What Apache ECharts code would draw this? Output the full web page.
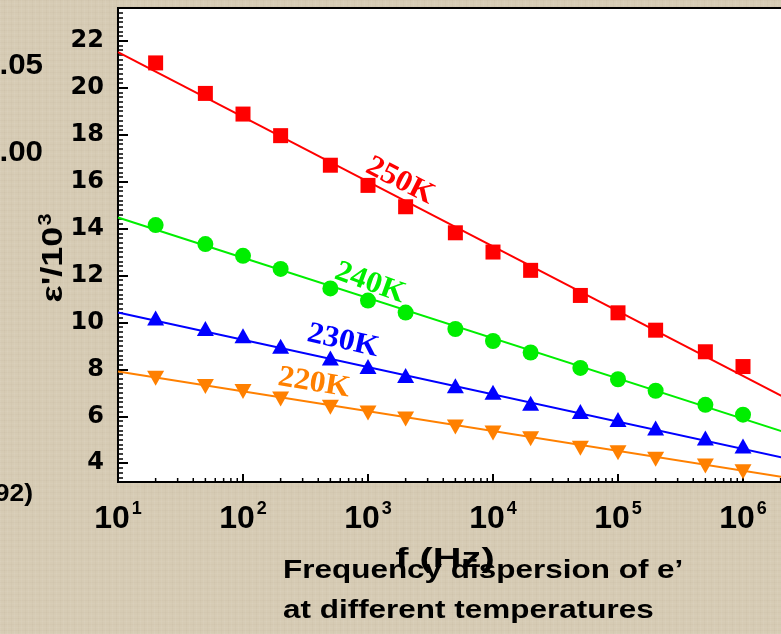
<!DOCTYPE html>
<html><head><meta charset="utf-8">
<script src="https://cdn.jsdelivr.net/npm/echarts@6/dist/echarts.min.js"></script>
<style>
html,body{margin:0;padding:0}
body{background-color:#d6cbb4;
 background-image:
  repeating-linear-gradient(90deg, rgba(255,255,255,0.05) 0px, rgba(255,255,255,0.05) 1px, rgba(0,0,0,0) 1px, rgba(0,0,0,0) 4px, rgba(120,100,70,0.035) 4px, rgba(120,100,70,0.035) 5px, rgba(0,0,0,0) 5px, rgba(0,0,0,0) 7px),
  repeating-linear-gradient(0deg, rgba(255,255,255,0.04) 0px, rgba(255,255,255,0.04) 1px, rgba(0,0,0,0) 1px, rgba(0,0,0,0) 3px, rgba(120,100,70,0.03) 3px, rgba(120,100,70,0.03) 4px, rgba(0,0,0,0) 4px, rgba(0,0,0,0) 6px);}
#c{width:781px;height:634px}
</style>
</head><body><div id="c"></div>
<script>
// ---- data ----
const freqs = [20, 50, 100, 200, 500, 1000, 2000, 5000, 10000, 20000, 50000, 100000, 200000, 500000, 1000000];
const eps250 = [21.06, 19.76, 18.88, 17.96, 16.70, 15.84, 14.93, 13.82, 13.00, 12.22, 11.15, 10.41, 9.67, 8.75, 8.12];
const eps240 = [14.15, 13.34, 12.84, 12.28, 11.45, 10.93, 10.42, 9.72, 9.21, 8.72, 8.06, 7.58, 7.09, 6.49, 6.07];
const eps230 = [10.19, 9.74, 9.43, 8.98, 8.48, 8.12, 7.74, 7.30, 7.02, 6.56, 6.20, 5.86, 5.50, 5.08, 4.73];
const eps220 = [7.62, 7.27, 7.06, 6.74, 6.39, 6.14, 5.88, 5.54, 5.29, 5.04, 4.64, 4.45, 4.17, 3.88, 3.64];
// linear fits (end points)
const fitFreqs = [10, 10000000];
const fit250 = [21.52, 4.96];
const fit240 = [14.47, 4.18];
const fit230 = [10.42, 3.45];
const fit220 = [7.91, 2.83];
const tempLabels = ['250K', '240K', '230K', '220K'];
// log-axis minor tick positions
const minorMultipliers = [2, 3, 4, 5, 6, 7, 8, 9];
const minorDecades = [10, 100, 1000, 10000, 100000, 1000000];

const colors = ['#ff0000', '#00ee00', '#0000ff', '#ff8000'];
const SANS = '"Liberation Sans", Arial, sans-serif';
const WIDE = '"DejaVu Sans", sans-serif';
const SERIF = '"Liberation Serif", "Times New Roman", serif';

const minorTicks = [];
minorDecades.forEach(d => minorMultipliers.forEach(m => minorTicks.push([d * m, 10])));

const pts = arr => freqs.map((f, i) => [f, arr[i]]);
const fitPts = arr => fitFreqs.map((f, i) => [f, arr[i]]);

const sets = [
  {vals: eps250, fit: fit250, symbol: 'rect', size: 15, rot: 0},
  {vals: eps240, fit: fit240, symbol: 'circle', size: 16, rot: 0},
  {vals: eps230, fit: fit230, symbol: 'triangle', size: [17, 15], rot: 0},
  {vals: eps220, fit: fit220, symbol: 'triangle', size: [17, 15], rot: 180}
];

const series = [];
sets.forEach((s, k) => {
  series.push({
    type: 'line', data: fitPts(s.fit), symbol: 'none', silent: true,
    lineStyle: {color: colors[k], width: 2}, z: 2, xAxisIndex: 0, yAxisIndex: 0
  });
});
sets.forEach((s, k) => {
  series.push({
    type: 'scatter', data: pts(s.vals), symbol: s.symbol, symbolSize: s.size,
    symbolRotate: s.rot, itemStyle: {color: colors[k], opacity: 1}, z: 3,
    xAxisIndex: 0, yAxisIndex: 0
  });
});
series.push({
  type: 'custom', data: minorTicks, silent: true, z: 4, clip: false,
  xAxisIndex: 0, yAxisIndex: 0, encode: {x: 0, y: 1},
  renderItem: (params, api) => {
    const cs = params.coordSys;
    const x = api.coord([api.value(0), 10])[0];
    const yb = cs.y + cs.height;
    return {type: 'line', shape: {x1: x, y1: yb, x2: x, y2: yb - 4},
            style: {stroke: '#000', lineWidth: 1.5}};
  }
});

const labelPos = [
  {x: 400, y: 181, r: -27},
  {x: 370, y: 283, r: -20},
  {x: 343, y: 341, r: -12.5},
  {x: 314, y: 383, r: -9.5}
];

const graphic = [];
tempLabels.forEach((t, k) => {
  graphic.push({type: 'text', x: labelPos[k].x, y: labelPos[k].y,
    rotation: labelPos[k].r * Math.PI / 180, scaleX: 1.06, z: 100,
    style: {text: t, fill: colors[k], font: 'bold 30px ' + SERIF,
            textAlign: 'center', textVerticalAlign: 'middle'}});
});
graphic.push(
  {type: 'text', x: 54, y: 258, rotation: Math.PI / 2, scaleX: 1.2, z: 100,
   style: {text: '{a|ε\'/10}{s|3}', textAlign: 'center', textVerticalAlign: 'middle',
     rich: {a: {font: 'bold 30px ' + SANS, fill: '#000'},
            s: {font: 'bold 18px ' + SANS, fill: '#000', padding: [0, 0, 16, 1]}}}},
  {type: 'text', x: 43, y: 66, z: 100, scaleX: 1.08, style: {text: '.05', font: 'bold 29px ' + SANS, fill: '#000', textAlign: 'right', textVerticalAlign: 'middle'}},
  {type: 'text', x: 43, y: 153, z: 100, scaleX: 1.08, style: {text: '.00', font: 'bold 29px ' + SANS, fill: '#000', textAlign: 'right', textVerticalAlign: 'middle'}},
  {type: 'text', x: 33, y: 495, z: 100, scaleX: 1.15, style: {text: '92)', font: 'bold 23px ' + SANS, fill: '#000', textAlign: 'right', textVerticalAlign: 'middle'}},
  {type: 'text', x: 445, y: 559, z: 100, scaleX: 1.42, style: {text: 'f (Hz)', font: 'bold 28px ' + SANS, fill: '#000', textAlign: 'center', textVerticalAlign: 'middle'}},
  {type: 'text', x: 283, y: 571, z: 101, scaleX: 1.21, style: {text: 'Frequency dispersion of e\u2019', font: 'bold 26px ' + SANS, fill: '#000', textAlign: 'left', textVerticalAlign: 'middle'}},
  {type: 'text', x: 283, y: 611, z: 101, scaleX: 1.21, style: {text: 'at different temperatures', font: 'bold 26px ' + SANS, fill: '#000', textAlign: 'left', textVerticalAlign: 'middle'}}
);

const chart = echarts.init(document.getElementById('c'), null, {renderer: 'canvas'});
chart.setOption({
  backgroundColor: 'transparent',
  animation: false,
  grid: {left: 118, top: 8, bottom: 152, right: -87, show: true, containLabel: false,
         outerBoundsMode: 'none',
         backgroundColor: '#ffffff', borderColor: '#000', borderWidth: 2},
  xAxis: [{
    type: 'log', logBase: 10, min: 10, max: 10000000,
    axisLine: {lineStyle: {color: '#000', width: 2}},
    axisTick: {inside: true, length: 8, lineStyle: {color: '#000', width: 2}},
    splitLine: {show: false},
    axisLabel: {
      margin: 18,
      formatter: v => '{b|10}{s|' + Math.round(Math.log10(v)) + '}',
      rich: {
        b: {fontSize: 32, fontWeight: 'bold', fontFamily: SANS, color: '#000'},
        s: {fontSize: 18, fontWeight: 'bold', fontFamily: SANS, color: '#000', padding: [0, 0, 20, 2]}
      }
    }
  }],
  yAxis: [{
    type: 'value', min: 3.2, max: 23.4, interval: 0.2,
    axisLine: {show: true, lineStyle: {color: '#000', width: 2}},
    axisTick: {inside: true, length: 5, interval: 0, lineStyle: {color: '#000', width: 1.5}},
    axisLabel: {show: false},
    splitLine: {show: false}
  }, {
    type: 'value', min: 3.2, max: 23.4, splitNumber: 10, minInterval: 2, maxInterval: 2,
    position: 'left', offset: 0,
    axisLine: {show: false},
    axisTick: {inside: true, length: 10, lineStyle: {color: '#000', width: 2}},
    axisLabel: {margin: 14, showMinLabel: false, showMaxLabel: false,
                fontSize: 24, fontWeight: 'bold', fontFamily: WIDE, color: '#000'},
    splitLine: {show: false}
  }],
  series: series,
  graphic: graphic
});
</script></body></html>
